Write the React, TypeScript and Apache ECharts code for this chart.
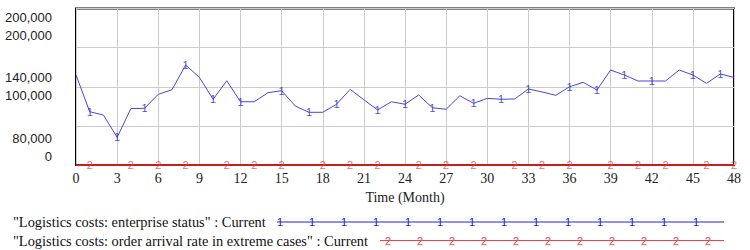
import React, { useEffect, useRef } from "react";
import * as echarts from "echarts";

const months = [0,1,2,3,4,5,6,7,8,9,10,11,12,13,14,15,16,17,18,19,20,21,22,23,24,25,26,27,28,29,30,31,32,33,34,35,36,37,38,39,40,41,42,43,44,45,46,47,48];
const enterpriseStatus = [149000,120900,118300,101200,123200,123500,134200,137700,156700,147200,130400,144600,128500,128500,135400,137000,125200,120400,120400,126500,138000,130000,122200,128500,126600,133700,123900,122700,133100,127300,131100,130400,130600,138300,136000,133400,140000,143400,137500,152800,149000,144400,144400,144400,152800,149000,142600,149800,147200];
const extremeArrival = [0,0,0,0,0,0,0,0,0,0,0,0,0,0,0,0,0,0,0,0,0,0,0,0,0,0,0,0,0,0,0,0,0,0,0,0,0,0,0,0,0,0,0,0,0,0,0,0,0];
const marker1Months = [1,3,5,8,10,12,15,17,19,22,24,26,29,31,33,36,38,40,42,45,47];
const marker2Months = [1,4,6,8,11,13,15,18,20,22,25,27,29,32,34,36,39,41,43,46,48];
const scale1Ticks = ["80,000", "140,000", "200,000"];
const scale2Values = [0, 100000, 200000];
const scale2Ticks = ["0", "100,000", "200,000"];
const seriesNames = [
  "\"Logistics costs: enterprise status\" : Current",
  "\"Logistics costs: order arrival rate in extreme cases\" : Current",
];
const xAxisName = "Time (Month)";

const BLUE = "#4646e0";
const BLUE_DARK = "#2222cc";
const RED = "#c41e1e";
const RED_LIGHT = "#ee4444";

export default function App() {
  const ref = useRef<HTMLDivElement>(null);
  useEffect(() => {
    if (!ref.current) return;
    const chart = echarts.init(ref.current, undefined, { renderer: "svg" });

    const legendGraphics: any[] = [];
    const legendRows = [
      { y: 222, x1: 277, x2: 724, start: 280, count: 14, mark: "1", line: BLUE_DARK, mcol: BLUE_DARK },
      { y: 240.5, x1: 380, x2: 724, start: 388, count: 11, mark: "2", line: RED_LIGHT, mcol: RED_LIGHT },
    ];
    legendRows.forEach((r, i) => {
      legendGraphics.push({
        type: "text",
        x: 13,
        y: r.y,
        style: { text: seriesNames[i], font: '14.4px "Liberation Serif"', fill: "#111", verticalAlign: "middle", align: "left" },
      });
      legendGraphics.push({
        type: "line",
        shape: { x1: r.x1, y1: r.y, x2: r.x2, y2: r.y },
        style: { stroke: r.line, lineWidth: 1 },
      });
      for (let k = 0; k < r.count; k++) {
        legendGraphics.push({
          type: "text",
          x: r.start + 32 * k,
          y: r.y,
          style: { text: r.mark, font: '11px "Liberation Sans"', fill: r.mcol, align: "center", verticalAlign: "middle" },
        });
      }
    });

    chart.setOption({
      animation: false,
      backgroundColor: "#fff",
      grid: {
        left: 76,
        right: 16,
        top: 8.5,
        bottom: 85,
        show: true,
        borderColor: "#000",
        borderWidth: 2,
        containLabel: false,
      },
      xAxis: {
        type: "value",
        min: 0,
        max: 48,
        interval: 3,
        axisLine: { show: false },
        axisTick: { show: false },
        splitLine: { show: true, lineStyle: { color: "#cccccc", width: 1 } },
        axisLabel: { fontFamily: "Liberation Serif", fontSize: 14, color: "#222", margin: 6 },
        name: xAxisName,
        nameLocation: "middle",
        nameGap: 25,
        nameTextStyle: { fontFamily: "Liberation Serif", fontSize: 14, color: "#222" },
      },
      yAxis: [
        {
          type: "value",
          min: 0,
          max: 200000,
          interval: 50000,
          axisLine: { show: false },
          axisTick: { show: false },
          splitLine: { show: true, lineStyle: { color: "#cccccc", width: 1 } },
          axisLabel: {
            fontFamily: "Liberation Sans",
            fontSize: 13,
            lineHeight: 18,
            color: "#222",
            margin: 24,
            verticalAlignMinLabel: "bottom",
            verticalAlignMaxLabel: "top",
            formatter: (v: number) => {
              const i = scale2Values.indexOf(v);
              if (i < 0) return "";
              return scale1Ticks[i] + "\n" + scale2Ticks[i];
            },
          },
        },
        {
          type: "value",
          min: 80000,
          max: 200000,
          show: false,
          splitLine: { show: false },
        },
      ],
      series: [
        {
          type: "line",
          yAxisIndex: 1,
          data: months.map((m, i) => [m, enterpriseStatus[i]]),
          showSymbol: false,
          symbol: "none",
          lineStyle: { color: BLUE, width: 1 },
          z: 3,
        },
        {
          type: "scatter",
          yAxisIndex: 1,
          data: marker1Months.map((m) => [m, enterpriseStatus[months.indexOf(m)]]),
          symbolSize: 1,
          itemStyle: { color: "rgba(0,0,0,0)" },
          label: { show: true, position: "inside", formatter: "1", color: BLUE_DARK, fontSize: 11, fontFamily: "Liberation Sans" },
          z: 4,
        },
        {
          type: "line",
          yAxisIndex: 0,
          data: months.map((m, i) => [m, extremeArrival[i]]),
          showSymbol: false,
          symbol: "none",
          lineStyle: { color: RED, width: 2 },
          z: 5,
        },
        {
          type: "scatter",
          yAxisIndex: 0,
          data: marker2Months.map((m) => [m, extremeArrival[months.indexOf(m)]]),
          symbolSize: 1,
          itemStyle: { color: "rgba(0,0,0,0)" },
          label: { show: true, position: "inside", formatter: "2", color: RED_LIGHT, fontSize: 11, fontFamily: "Liberation Sans" },
          z: 6,
        },
      ],
      graphic: legendGraphics,
    });
    return () => chart.dispose();
  }, []);
  return <div ref={ref} style={{ position: "fixed", left: 0, top: 0, width: 750, height: 250 }} />;
}
